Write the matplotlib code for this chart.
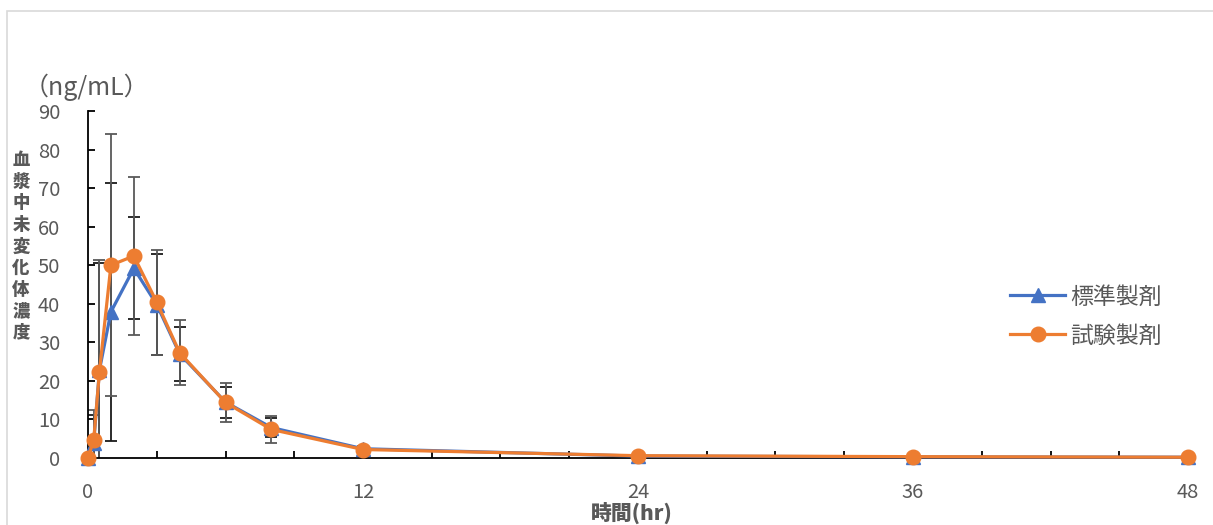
import matplotlib
matplotlib.use('Agg')
import matplotlib.pyplot as plt
from matplotlib.patches import Rectangle

# --- data ---
tiempo = [0, 0.25, 0.5, 1, 2, 3, 4, 6, 8, 12, 24, 36, 48]

estandar = [0, 4.0, 22.8, 37.9, 49.2, 39.8, 27.0, 14.5, 7.9, 2.4, 0.5, 0.3, 0.2]
estandar_sd = [0, 7.2, 27.9, 33.5, 13.2, 13.1, 7.0, 4.0, 2.5, 0.8, 0.2, 0.1, 0.1]

prueba = [0, 4.7, 22.4, 50.0, 52.4, 40.4, 27.3, 14.4, 7.4, 2.2, 0.6, 0.35, 0.2]
prueba_sd = [0, 7.7, 28.9, 34.0, 20.4, 13.6, 8.4, 5.0, 3.6, 1.0, 0.2, 0.1, 0.1]

etiquetas = ['標準製剤', '試験製剤']
eje_y = '血漿中未変化体濃度'
unidad_y = '（ng/mL）'
eje_x = '時間(hr)'

plt.rcParams['font.family'] = ['Noto Sans CJK JP', 'DejaVu Sans']

W, H = 1213, 525
fig = plt.figure(figsize=(W / 100, H / 100), dpi=100)
ax = fig.add_axes([88 / W, 1 - 458 / H, 1100 / W, 347 / H])

gris = '#595959'
azul = '#4472C4'
naranja = '#ED7D31'

# error bars first (clipped at 0), lines on top
ax.errorbar(tiempo, estandar, yerr=estandar_sd, fmt='none', ecolor='#1a1a1a',
            elinewidth=1.3, capsize=4, capthick=1.3, zorder=2)
ax.errorbar(tiempo, prueba, yerr=prueba_sd, fmt='none', ecolor=gris,
            elinewidth=1.3, capsize=4, capthick=1.3, zorder=2)

ax.plot(tiempo, estandar, color=azul, lw=2.3, marker='^', ms=10,
        label=etiquetas[0], zorder=3, clip_on=False)
ax.plot(tiempo, prueba, color=naranja, lw=2.3, marker='o', ms=10.5,
        label=etiquetas[1], zorder=4, clip_on=False)

ax.set_xlim(0, 48)
ax.set_ylim(0, 90)
ax.set_xticks([0, 12, 24, 36, 48])
ax.set_xticks(range(0, 49, 3), minor=True)
ax.set_yticks(range(0, 91, 10))

for s in ['top', 'right']:
    ax.spines[s].set_visible(False)
for s in ['left', 'bottom']:
    ax.spines[s].set_color('black')
    ax.spines[s].set_linewidth(1.3)
    ax.spines[s].set_clip_on(False)

ax.tick_params(axis='y', direction='in', length=5, width=1.3, color='black',
               labelcolor=gris, labelsize=14.5, pad=20)
ax.tick_params(axis='x', which='both', direction='in', length=5, width=1.3,
               color='black', labelcolor=gris, labelsize=14.5, pad=17)

leg = ax.legend(loc='upper left', bbox_to_anchor=(999 / W, 1 - 274 / H),
                bbox_transform=fig.transFigure, frameon=False, fontsize=16.5,
                handlelength=2.4, handletextpad=0.2, labelspacing=0.7,
                borderpad=0)
for t in leg.get_texts():
    t.set_color(gris)

fig.text(24 / W, 1 - 87 / H, unidad_y, fontsize=18, color=gris,
         ha='left', va='center')

# vertical stacked label
for i, c in enumerate(eje_y):
    fig.text(21 / W, 1 - (160 + i * 21.6) / H, c, fontsize=12.5, color=gris,
             fontweight='heavy', ha='center', va='center')

fig.text(632 / W, 1 - 513 / H, eje_x, fontsize=15, color=gris,
         fontweight='heavy', ha='center', va='center')

# light frame of the chart area
fig.patches.append(Rectangle((6.5 / W, -0.1), 1.2, 1.1 - 10.5 / H,
                             transform=fig.transFigure, fill=False,
                             ec='#d9d9d9', lw=1.2))

fig.savefig('out.png', dpi=100)
